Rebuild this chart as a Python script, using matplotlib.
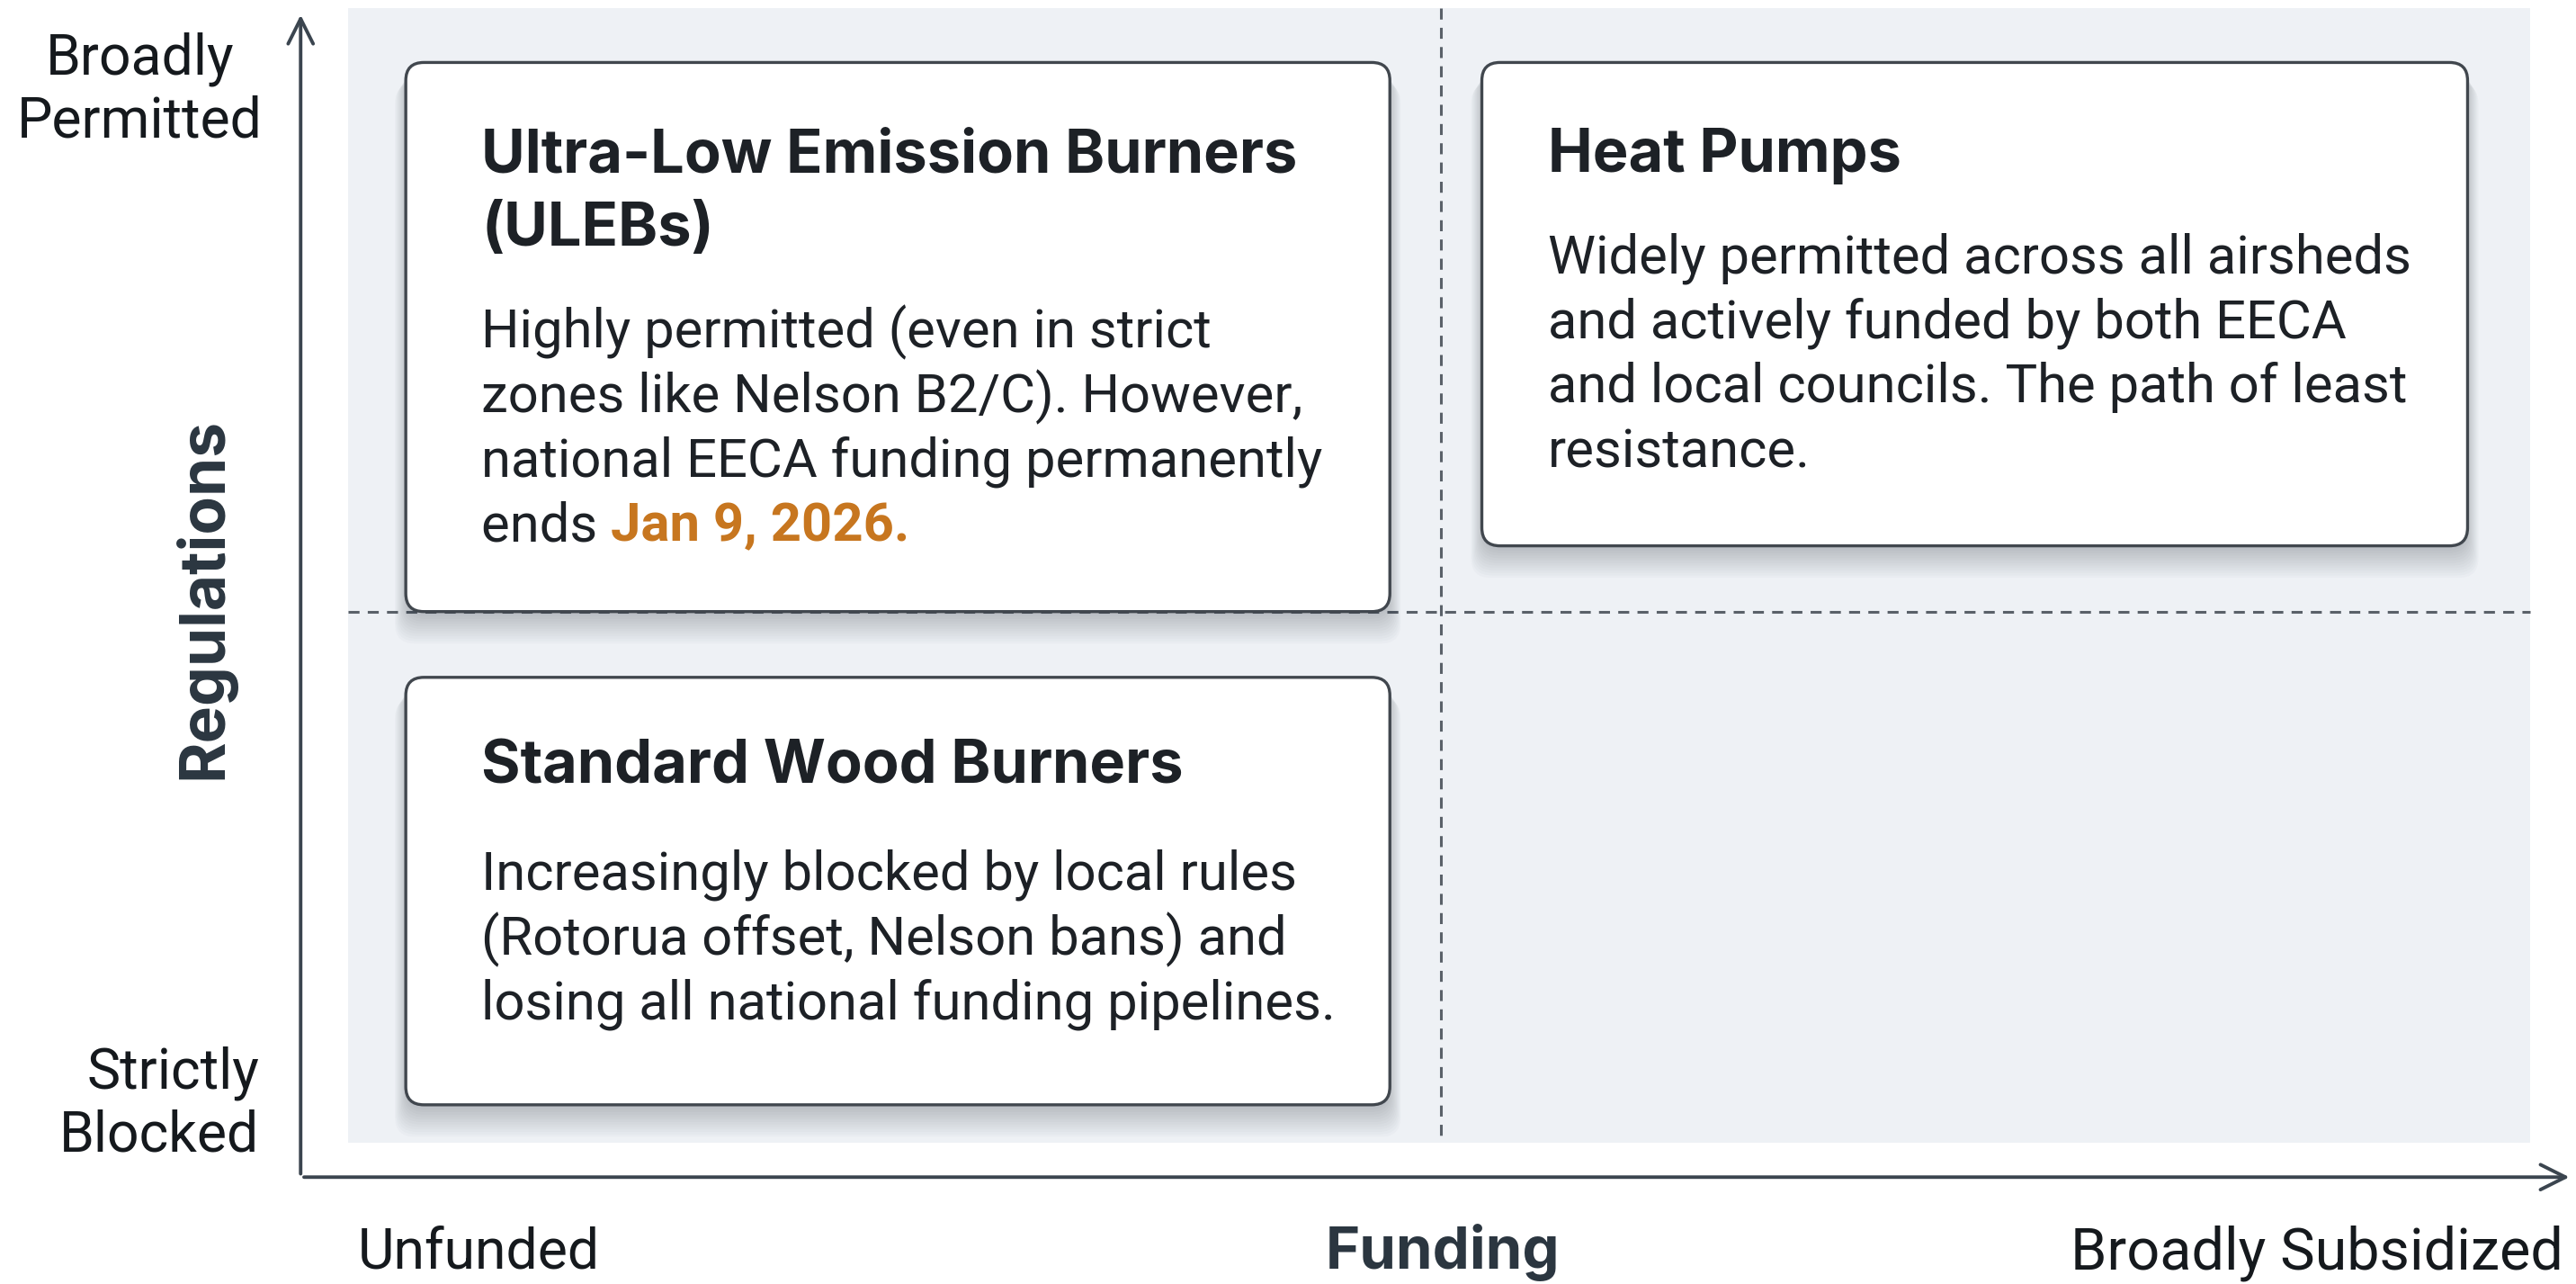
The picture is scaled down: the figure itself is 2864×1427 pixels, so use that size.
import matplotlib.pyplot as plt
from matplotlib.patches import FancyBboxPatch

# quadrant content
titles = [["Ultra-Low Emission Burners", "(ULEBs)"], ["Heat Pumps"], ["Standard Wood Burners"]]
bodies = [
    ["Highly permitted (even in strict", "zones like Nelson B2/C). However,",
     "national EECA funding permanently", "ends "],
    ["Widely permitted across all airsheds", "and actively funded by both EECA",
     "and local councils. The path of least", "resistance."],
    ["Increasingly blocked by local rules", "(Rotorua offset, Nelson bans) and",
     "losing all national funding pipelines."],
]
highlights = ["Jan 9, 2026.", None, None]
x_ticks = ["Unfunded", "Broadly Subsidized"]
y_ticks = ["Strictly\nBlocked", "Broadly\nPermitted"]
x_name, y_name = "Funding", "Regulations"

# layout (in reference pixel frame 1568 x 781)
boxes = [(247, 38, 599, 334), (902, 38, 600, 294), (247, 412, 599, 260)]
text_x = [293, 942, 293]
title_top = [95, 95, 467]
body_top = [202, 157, 532]
line_step = 39.4

TXT = "#1d2126"
AXC = "#3b454f"

fig = plt.figure(figsize=(14.32, 7.135), dpi=200)
ax = fig.add_axes([0, 0, 1, 1])
ax.set_xlim(0, 1568)
ax.set_ylim(781, 0)
ax.axis("off")

# panel + quadrant dividers
ax.add_patch(plt.Rectangle((212, 5), 1328, 690, facecolor="#eef1f5", edgecolor="none", zorder=0))
ax.plot([877, 877], [5, 695], color="#5a6169", lw=1.1, ls=(0, (4, 3)), zorder=1)
ax.plot([212, 1540], [372, 372], color="#5a6169", lw=1.1, ls=(0, (4, 3)), zorder=1)

# axes arrows
ax.annotate("", xy=(183, 6), xytext=(183, 717),
            arrowprops=dict(arrowstyle="->,head_length=1.0,head_width=0.5", color=AXC, lw=1.4))
ax.annotate("", xy=(1567, 716), xytext=(182, 716),
            arrowprops=dict(arrowstyle="->,head_length=1.0,head_width=0.5", color=AXC, lw=1.4))

for i, (x, y, w, h) in enumerate(boxes):
    # soft shadow
    for k in range(12):
        ax.add_patch(FancyBboxPatch((x - k * 0.6, y + 3 + k * 0.9), w + k * 1.2, h + k * 0.6,
                                    boxstyle="round,pad=0,rounding_size=12",
                                    facecolor="#1b2430", edgecolor="none", alpha=0.02, zorder=2))
    ax.add_patch(FancyBboxPatch((x, y), w, h, boxstyle="round,pad=0,rounding_size=11",
                                facecolor="white", edgecolor="#41474e", lw=1.2, zorder=3))
    tx = text_x[i]
    for j, line in enumerate(titles[i]):
        ax.text(tx, title_top[i] + j * 45, line, fontsize=24, fontweight="bold", family="Inter",
                color=TXT, va="center", ha="left", zorder=4)
    last = None
    for j, line in enumerate(bodies[i]):
        last = ax.text(tx, body_top[i] + j * line_step, line, fontsize=21.5, family="Roboto",
                       color=TXT, va="center", ha="left", zorder=4)
    if highlights[i]:
        ax.annotate(highlights[i], xy=(1, 0), xycoords=last, va="bottom", ha="left",
                    fontsize=21.5, family="Roboto", fontweight="bold", color="#c7761f", zorder=4)

# axis labels
ax.text(160, 55, y_ticks[1], fontsize=22.5, family="Roboto", color="#15191d",
        ha="right", va="center", linespacing=1.2, multialignment="center")
ax.text(158, 672, y_ticks[0], fontsize=22.5, family="Roboto", color="#15191d",
        ha="right", va="center", linespacing=1.2)
ax.text(218, 762, x_ticks[0], fontsize=22.5, family="Roboto", color="#15191d",
        ha="left", va="center")
ax.text(1560, 762, x_ticks[1], fontsize=23.3, family="Roboto", color="#15191d",
        ha="right", va="center")
ax.text(878, 762, x_name, fontsize=23.5, family="Inter", fontweight="bold", color="#2b3640",
        ha="center", va="center")
ax.text(124, 364, y_name, fontsize=25, family="Inter", fontweight="bold", color="#2b3640",
        ha="center", va="center", rotation=90)

fig.savefig("out.png", dpi=200)
